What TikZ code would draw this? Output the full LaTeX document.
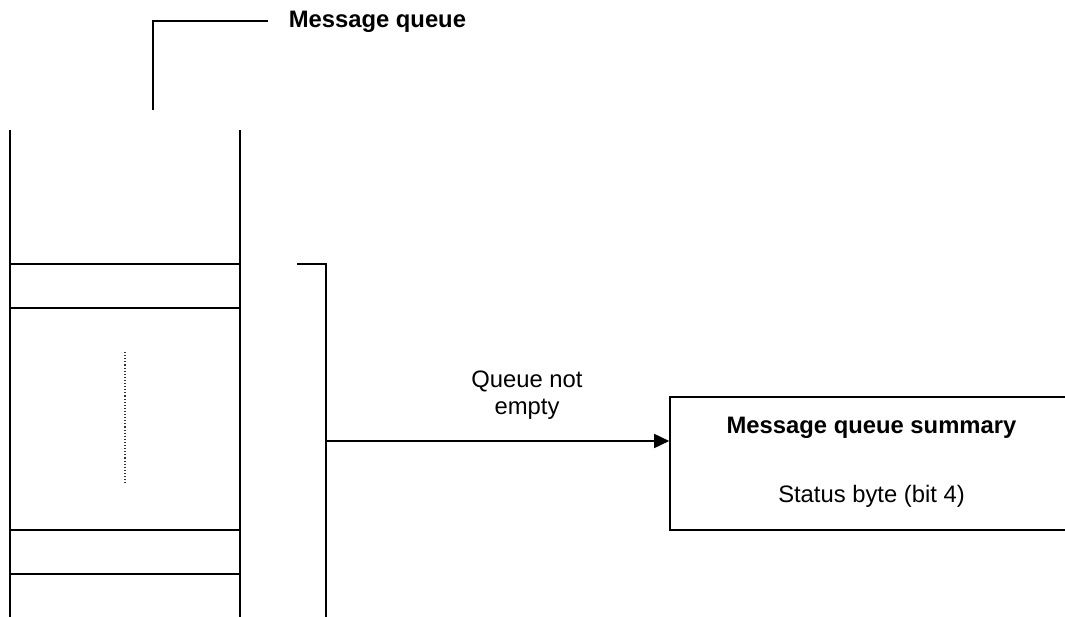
\documentclass[tikz,border=0pt]{standalone}
\usepackage{fontspec}
\setmainfont{Liberation Sans}
\usepackage{tikz}
\usetikzlibrary{positioning,arrows.meta,calc}

\begin{document}
\begin{tikzpicture}[x=1pt, y=-1pt, line width=1.6pt,
  lab/.style={font=\fontsize{23.8}{27.5}\selectfont, inner sep=0pt, align=center},
  hd/.style={lab, font=\fontsize{23.8}{27.5}\selectfont\bfseries},
  sumbox/.style={draw, rectangle, minimum width=403pt, minimum height=133pt, inner sep=0pt}]
  \useasboundingbox (0, 0) rectangle (1065, 617);
  \clip (0, 0) rectangle (1065, 617);
  \draw (10, 130) -- (10, 620);
  \draw (240, 130) -- (240, 620);
  \foreach \y in {264, 308, 530, 574}
    {
      \draw (10, \y) -- (240, \y);
    }
  \draw[line width=1.1pt, dotted, black!80] (125, 352) -- (125, 485);
  \coordinate (qtop) at (153, 110);
  \draw (qtop) -- (153, 21) -- (268, 21) coordinate (qtag);
  \node[hd, anchor=west] (qname) at ($(qtag)+(20, 1)$) {Message queue};
  \coordinate (brk) at (326, 441);
  \draw (297, 264) -- (326, 264) -- (326, 620);
  \node[sumbox] (summary) at (871.5, 463.5) {};
  \node[hd] (sumtitle) at (871.5, 428) {Message queue summary};
  \node[lab] (sumbit) at (871.5, 496) {Status byte (bit 4)};
  \draw[-{Triangle[length=15pt, width=14pt]}] (brk) -- (summary.west |- brk);
  \node[lab] (cond) at (527, 395) {Queue not\\empty};
\end{tikzpicture}
\end{document}
